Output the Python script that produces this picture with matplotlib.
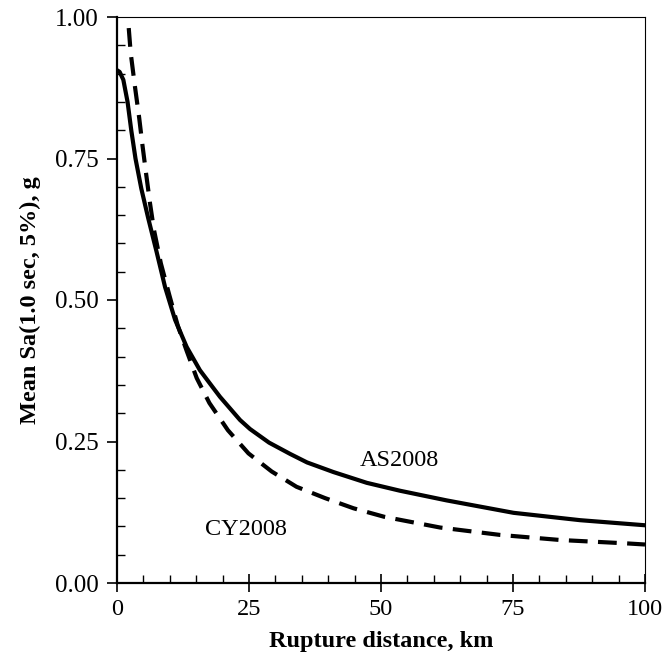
import matplotlib
matplotlib.use('Agg')
import matplotlib.pyplot as plt
from matplotlib.ticker import MultipleLocator

# Values
as_dist = [0, 0.5, 1.2, 2.0, 2.7, 3.5, 4.6, 5.9, 7.5, 9.1, 11.0, 13.2, 15.7, 18.2, 19.5,
           23.3, 25.2, 28.8, 32.8, 36.0, 41.0, 47.3, 53.6, 62.4, 75.1, 87.7, 100]
as_sa = [0.906, 0.903, 0.889, 0.850, 0.800, 0.750, 0.697, 0.645, 0.585, 0.523, 0.465, 0.417,
         0.376, 0.345, 0.329, 0.288, 0.272, 0.248, 0.228, 0.213, 0.196, 0.177, 0.163, 0.146,
         0.124, 0.111, 0.102]

cy_dist = [1.7, 2.1, 2.6, 3.4, 4.2, 4.8, 5.5, 6.25, 7.0, 8.3, 9.9, 11.5, 13.2, 15.1, 17.5,
           21.0, 24.9, 29.3, 34.0, 39.4, 44.8, 50.6, 61.2, 72.5, 83.9, 96.5, 100]
cy_sa = [1.04, 0.995, 0.936, 0.877, 0.822, 0.775, 0.724, 0.671, 0.624, 0.565, 0.509, 0.455,
         0.410, 0.362, 0.318, 0.270, 0.229, 0.197, 0.170, 0.150, 0.132, 0.117, 0.098, 0.085,
         0.076, 0.070, 0.068]

x_ticks = [0, 25, 50, 75, 100]
y_ticks = [0.0, 0.25, 0.5, 0.75, 1.0]

plt.rcParams['font.family'] = ['Liberation Serif', 'DejaVu Serif']

fig = plt.figure(figsize=(6.62, 6.62), dpi=100)
ax = fig.add_axes([117 / 662, 1 - 583 / 662, 528 / 662, 566 / 662])

ax.plot(as_dist, as_sa, color='k', lw=3, solid_joinstyle='round')
ax.plot(cy_dist, cy_sa, color='k', lw=3, linestyle=(0, (4.5, 2.5)),
        dash_joinstyle='round')

ax.text(46, 0.217, 'AS2008', fontsize=17.5, va='center')
ax.text(16.7, 0.094, 'CY2008', fontsize=17.5, va='center')

ax.set_xlim(0, 100)
ax.set_ylim(0, 1.0)
ax.set_xticks(x_ticks)
ax.set_yticks(y_ticks)
ax.set_xticklabels([str(t) for t in x_ticks])
ax.set_yticklabels([f'{t:.2f}' for t in y_ticks])
ax.xaxis.set_minor_locator(MultipleLocator(5))
ax.yaxis.set_minor_locator(MultipleLocator(0.05))

ax.tick_params(axis='x', which='major', direction='inout', length=13, width=1.2, labelsize=17.5, pad=5)
ax.tick_params(axis='y', which='major', direction='out', length=7, width=1.2, labelsize=18, pad=6)
ax.tick_params(which='minor', direction='in', length=6, width=1)
ax.tick_params(top=False, right=False, which='both')

for s in ['left', 'bottom']:
    ax.spines[s].set_linewidth(1.6)
for s in ['top', 'right']:
    ax.spines[s].set_linewidth(0.8)

ax.set_xlabel('Rupture distance, km', fontsize=17.5, fontweight='bold', labelpad=8)
ax.set_ylabel('Mean Sa(1.0 sec, 5%), g', fontsize=17.5, fontweight='bold', labelpad=10)

fig.savefig('out.png', dpi=100)
